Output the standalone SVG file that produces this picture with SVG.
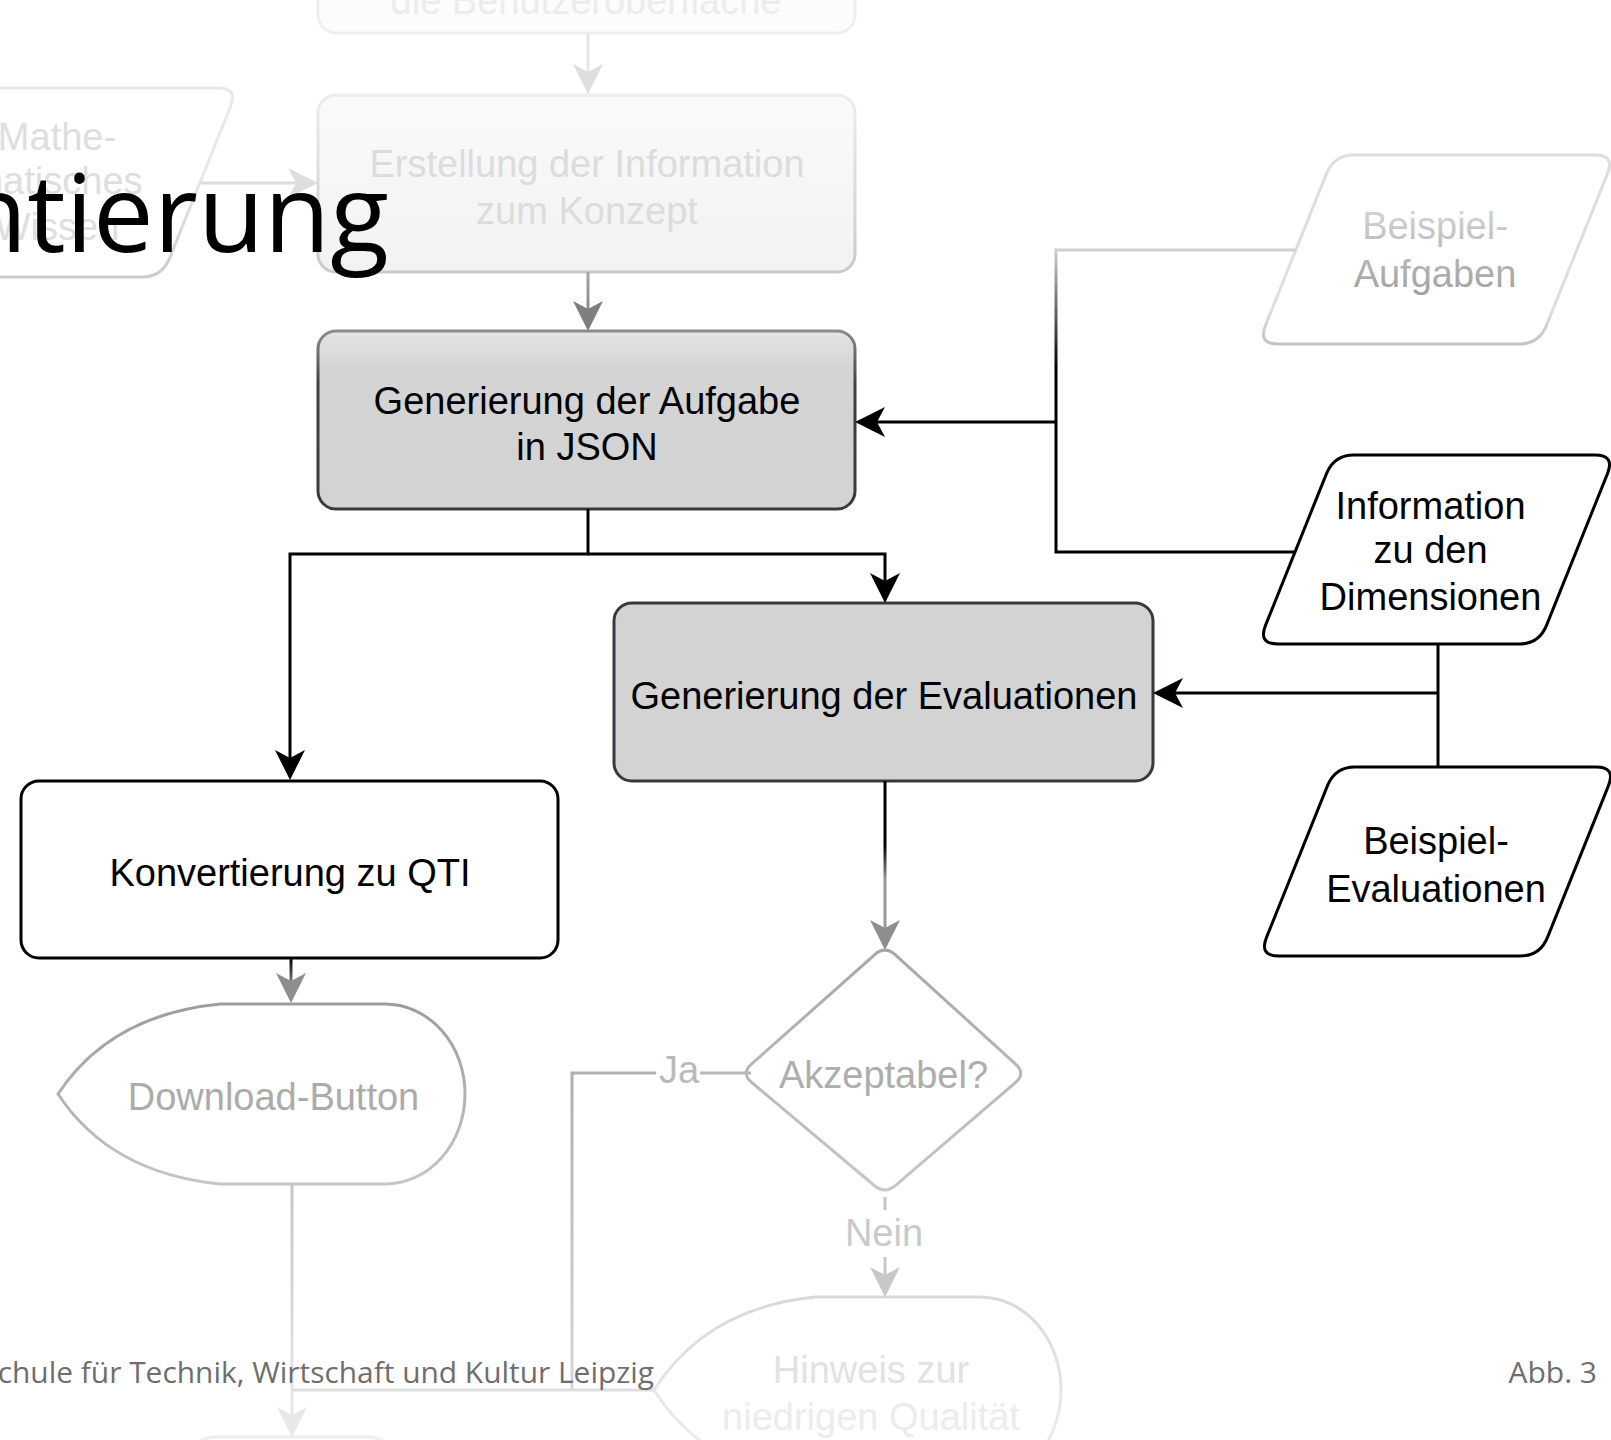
<svg xmlns="http://www.w3.org/2000/svg" width="1611" height="1440" viewBox="0 0 1611 1440">
  <style>
    .lbl { font-family: "Liberation Sans", Arial, Helvetica, sans-serif; font-size: 38px; text-anchor: middle; }
    .box { stroke-width: 3; }
    .edge { fill: none; stroke-width: 3; }
    .slide { font-family: "Open Sans", "Noto Sans", "DejaVu Sans", sans-serif; }
  </style>
  <defs>
    <!-- classic notched arrowheads; the path end sits on the notch -->
    <marker id="arrBlack" viewBox="-8 -15 30 30" refX="0" refY="0" markerWidth="30" markerHeight="30" markerUnits="userSpaceOnUse" orient="auto">
      <path d="M22,0 L-8,-15 L0,0 L-8,15 Z" fill="#000"/>
    </marker>
    <marker id="arrGray" viewBox="-8 -15 30 30" refX="0" refY="0" markerWidth="30" markerHeight="30" markerUnits="userSpaceOnUse" orient="auto">
      <path d="M22,0 L-8,-15 L0,0 L-8,15 Z" fill="#7e7e7e"/>
    </marker>
    <marker id="arrMid" viewBox="-8 -15 30 30" refX="0" refY="0" markerWidth="30" markerHeight="30" markerUnits="userSpaceOnUse" orient="auto">
      <path d="M22,0 L-8,-15 L0,0 L-8,15 Z" fill="#8e8e8e"/>
    </marker>
    <marker id="arrSoft" viewBox="-8 -15 30 30" refX="0" refY="0" markerWidth="30" markerHeight="30" markerUnits="userSpaceOnUse" orient="auto">
      <path d="M22,0 L-8,-15 L0,0 L-8,15 Z" fill="#c8c8c8"/>
    </marker>
    <marker id="arrLight" viewBox="-8 -15 30 30" refX="0" refY="0" markerWidth="30" markerHeight="30" markerUnits="userSpaceOnUse" orient="auto">
      <path d="M22,0 L-8,-15 L0,0 L-8,15 Z" fill="#dedede"/>
    </marker>
    <marker id="arrFaint" viewBox="-8 -15 30 30" refX="0" refY="0" markerWidth="30" markerHeight="30" markerUnits="userSpaceOnUse" orient="auto">
      <path d="M22,0 L-8,-15 L0,0 L-8,15 Z" fill="#e8e8e8"/>
    </marker>

    <!-- parallelogram with rounded corners, local origin at the sharp top-left corner -->
    <path id="para" d="M20,0 H261 Q281,0 273.5,18.6 L212.5,170.4 Q205,189 185,189 H-56 Q-76,189 -68.5,170.4 L-7.5,18.6 Q0,0 20,0 Z"/>

    <linearGradient id="gErstStroke" gradientUnits="userSpaceOnUse" x1="0" y1="95" x2="0" y2="272">
      <stop offset="0" stop-color="#ededed"/><stop offset="1" stop-color="#c9c9c9"/>
    </linearGradient>
    <linearGradient id="gErstFill" gradientUnits="userSpaceOnUse" x1="0" y1="95" x2="0" y2="272">
      <stop offset="0" stop-color="#fafafa"/><stop offset="1" stop-color="#f2f2f2"/>
    </linearGradient>
    <linearGradient id="gMathe" gradientUnits="userSpaceOnUse" x1="0" y1="88" x2="0" y2="277">
      <stop offset="0" stop-color="#e8e8e8"/><stop offset="1" stop-color="#b2b2b2"/>
    </linearGradient>
    <linearGradient id="gAufgFill" gradientUnits="userSpaceOnUse" x1="0" y1="331" x2="0" y2="509">
      <stop offset="0" stop-color="#e4e4e4"/><stop offset="0.22" stop-color="#d4d4d4"/><stop offset="1" stop-color="#d3d3d3"/>
    </linearGradient>
    <linearGradient id="gAufgStroke" gradientUnits="userSpaceOnUse" x1="0" y1="331" x2="0" y2="509">
      <stop offset="0" stop-color="#8c8c8c"/><stop offset="0.3" stop-color="#404040"/><stop offset="1" stop-color="#3a3a3a"/>
    </linearGradient>
    <linearGradient id="gBAStroke" gradientUnits="userSpaceOnUse" x1="0" y1="155" x2="0" y2="344">
      <stop offset="0" stop-color="#dedede"/><stop offset="1" stop-color="#4e4e4e"/>
    </linearGradient>
    <linearGradient id="gBAText" gradientUnits="userSpaceOnUse" x1="0" y1="205" x2="0" y2="295">
      <stop offset="0" stop-color="#d6d6d6"/><stop offset="1" stop-color="#a0a0a0"/>
    </linearGradient>
    <linearGradient id="gInputLine" gradientUnits="userSpaceOnUse" x1="0" y1="250" x2="0" y2="368">
      <stop offset="0" stop-color="#d0d0d0"/><stop offset="1" stop-color="#000"/>
    </linearGradient>
    <linearGradient id="gErstArrow" gradientUnits="userSpaceOnUse" x1="0" y1="272" x2="0" y2="331">
      <stop offset="0" stop-color="#a6a6a6"/><stop offset="1" stop-color="#7c7c7c"/>
    </linearGradient>
    <linearGradient id="gKonvArrow" gradientUnits="userSpaceOnUse" x1="0" y1="958" x2="0" y2="985">
      <stop offset="0" stop-color="#000"/><stop offset="1" stop-color="#8c8c8c"/>
    </linearGradient>
    <linearGradient id="gEvalArrow" gradientUnits="userSpaceOnUse" x1="0" y1="845" x2="0" y2="880">
      <stop offset="0" stop-color="#000"/><stop offset="1" stop-color="#999"/>
    </linearGradient>
    <linearGradient id="gDownload" gradientUnits="userSpaceOnUse" x1="0" y1="1004" x2="0" y2="1184">
      <stop offset="0" stop-color="#9c9c9c"/><stop offset="1" stop-color="#c6c6c6"/>
    </linearGradient>
    <linearGradient id="gDownLine" gradientUnits="userSpaceOnUse" x1="0" y1="1184" x2="0" y2="1437">
      <stop offset="0" stop-color="#c6c6c6"/><stop offset="1" stop-color="#ececec"/>
    </linearGradient>
    <linearGradient id="gDiamond" gradientUnits="userSpaceOnUse" x1="0" y1="946" x2="0" y2="1195">
      <stop offset="0" stop-color="#a6a6a6"/><stop offset="1" stop-color="#c8c8c8"/>
    </linearGradient>
    <linearGradient id="gJa" gradientUnits="userSpaceOnUse" x1="0" y1="1073" x2="0" y2="1390">
      <stop offset="0" stop-color="#aeaeae"/><stop offset="1" stop-color="#d8d8d8"/>
    </linearGradient>
    <linearGradient id="gHinweis" gradientUnits="userSpaceOnUse" x1="0" y1="1297" x2="0" y2="1440">
      <stop offset="0" stop-color="#d8d8d8"/><stop offset="1" stop-color="#ececec"/>
    </linearGradient>
  </defs>

  <rect width="1611" height="1440" fill="#fff"/>

  <g id="nodes">
    <g id="n-oberflaeche">
      <rect class="box" x="318" y="-150" width="537" height="183" rx="18" fill="#fcfcfc" stroke="#efefef"/>
      <text class="lbl" x="586" y="14" fill="#ececec">die Benutzeroberfläche</text>
    </g>

    <g id="n-erstellung">
      <rect class="box" x="318" y="95" width="537" height="177" rx="18" fill="url(#gErstFill)" stroke="url(#gErstStroke)"/>
      <text class="lbl" x="587" y="177" fill="#dcdcdc">Erstellung der Information</text>
      <text class="lbl" x="587" y="223.5" fill="#dcdcdc">zum Konzept</text>
    </g>

    <g id="n-wissen">
      <use href="#para" transform="translate(-43,88)" fill="#fff" stroke="url(#gMathe)" stroke-width="3"/>
      <text class="lbl" x="57" y="150" fill="#dedede">Mathe-</text>
      <text class="lbl" x="57" y="194" fill="#dedede">matisches</text>
      <text class="lbl" x="57" y="240" fill="#dedede">Wissen</text>
    </g>

    <g id="n-aufgabe">
      <rect class="box" x="318" y="331" width="537" height="178" rx="18" fill="url(#gAufgFill)" stroke="url(#gAufgStroke)"/>
      <text class="lbl" x="587" y="413.5" fill="#000">Generierung der Aufgabe</text>
      <text class="lbl" x="587" y="460" fill="#000">in JSON</text>
    </g>

    <g id="n-beispiel-aufgaben">
      <use href="#para" transform="translate(1334,155)" fill="#fff" stroke="url(#gBAStroke)" stroke-width="3"/>
      <text class="lbl" x="1435" y="238.5" fill="url(#gBAText)">Beispiel-</text>
      <text class="lbl" x="1435" y="286.5" fill="url(#gBAText)">Aufgaben</text>
    </g>

    <g id="n-dimensionen">
      <use href="#para" transform="translate(1334,455)" fill="#fff" stroke="#000" stroke-width="3"/>
      <text class="lbl" x="1430.5" y="518.5" fill="#000">Information</text>
      <text class="lbl" x="1430.5" y="563" fill="#000">zu den</text>
      <text class="lbl" x="1430.5" y="610" fill="#000">Dimensionen</text>
    </g>

    <g id="n-evaluationen">
      <rect class="box" x="614" y="603" width="539" height="178" rx="18" fill="#d3d3d3" stroke="#36393d"/>
      <text class="lbl" x="884" y="709" fill="#000">Generierung der Evaluationen</text>
    </g>

    <g id="n-beispiel-evaluationen">
      <use href="#para" transform="translate(1335,767)" fill="#fff" stroke="#000" stroke-width="3"/>
      <text class="lbl" x="1436" y="853.5" fill="#000">Beispiel-</text>
      <text class="lbl" x="1436" y="901.5" fill="#000">Evaluationen</text>
    </g>

    <g id="n-qti">
      <rect class="box" x="21" y="781" width="537" height="177" rx="18" fill="#fff" stroke="#000"/>
      <text class="lbl" x="290" y="886" fill="#000">Konvertierung zu QTI</text>
    </g>

    <g id="n-download">
      <path class="box" d="M58,1094 Q110,1015 220,1004 H385 A80,90 0 0 1 385,1184 H220 Q110,1173 58,1094 Z" fill="#fff" stroke="url(#gDownload)"/>
      <text class="lbl" x="273.5" y="1110" fill="#ababab">Download-Button</text>
    </g>

    <g id="n-next">
      <rect class="box" x="185" y="1437" width="213" height="200" rx="30" fill="#fff" stroke="#eeeeee"/>
    </g>

    <g id="n-akzeptabel">
      <path class="box" d="M874.5,954.8 Q885,945.5 895.4,954.9 L1015.6,1064.1 Q1026,1073.5 1015.4,1082.6 L895.6,1185.4 Q885,1194.5 874.3,1185.5 L751.7,1082.5 Q741,1073.5 751.5,1064.2 Z" fill="#fff" stroke="url(#gDiamond)"/>
      <text class="lbl" x="883.5" y="1088" fill="#adadad">Akzeptabel?</text>
    </g>

    <g id="n-hinweis">
      <path class="box" d="M654,1390 Q706,1308 815,1297 H980 A81,93 0 0 1 980,1483 H815 Q706,1472 654,1390 Z" fill="#fff" stroke="url(#gHinweis)"/>
      <text class="lbl" x="871" y="1383" fill="#e2e2e2">Hinweis zur</text>
      <text class="lbl" x="871" y="1430" fill="#ececec">niedrigen Qualität</text>
    </g>
  </g>

  <g id="connectors">
    <path class="edge" d="M588,34 V72" stroke="#e4e4e4" marker-end="url(#arrLight)"/>
    <path class="edge" d="M200,183 H296" stroke="#dcdcdc" marker-end="url(#arrLight)"/>
    <path class="edge" d="M588,272 V309" stroke="url(#gErstArrow)" marker-end="url(#arrGray)"/>

    <path class="edge" d="M588,509 V554 H290 V758" stroke="#000" marker-end="url(#arrBlack)"/>
    <path class="edge" d="M588,554 H885 V581" stroke="#000" marker-end="url(#arrBlack)"/>

    <path class="edge" d="M1296,250 H1056 V552 H1295" stroke="url(#gInputLine)"/>
    <path class="edge" d="M1056,422 H877" stroke="#000" marker-end="url(#arrBlack)"/>

    <path class="edge" d="M1438,644 V767" stroke="#000"/>
    <path class="edge" d="M1438,693 H1175" stroke="#000" marker-end="url(#arrBlack)"/>

    <path class="edge" d="M291,958 V981" stroke="url(#gKonvArrow)" marker-end="url(#arrMid)"/>
    <path class="edge" d="M885,781 V928" stroke="url(#gEvalArrow)" marker-end="url(#arrMid)"/>

    <path class="edge" d="M751,1073 H700" stroke="#b8b8b8"/>
    <path class="edge" d="M656,1073 H572 V1389" stroke="url(#gJa)"/>
    <text class="lbl" x="679" y="1083" fill="#b9b9b9">Ja</text>

    <path class="edge" d="M885,1197 V1210" stroke="#c6c6c6"/>
    <path class="edge" d="M885,1257 V1275" stroke="#c8c8c8" marker-end="url(#arrSoft)"/>
    <text class="lbl" x="884" y="1246" fill="#c9c9c9">Nein</text>

    <path class="edge" d="M292,1184 V1415" stroke="url(#gDownLine)" marker-end="url(#arrFaint)"/>
    <path class="edge" d="M654,1390 H292" stroke="#dedede"/>
  </g>

  <g id="slide">
    <text class="slide" x="389" y="252" font-size="108" text-anchor="end" fill="#000">ntierung</text>
    <text class="slide" x="654" y="1383" font-size="29.9" text-anchor="end" fill="#6e6e6e">chule für Technik, Wirtschaft und Kultur Leipzig</text>
    <text class="slide" x="1597" y="1383" font-size="30" text-anchor="end" fill="#6e6e6e">Abb. 3</text>
  </g>
</svg>
